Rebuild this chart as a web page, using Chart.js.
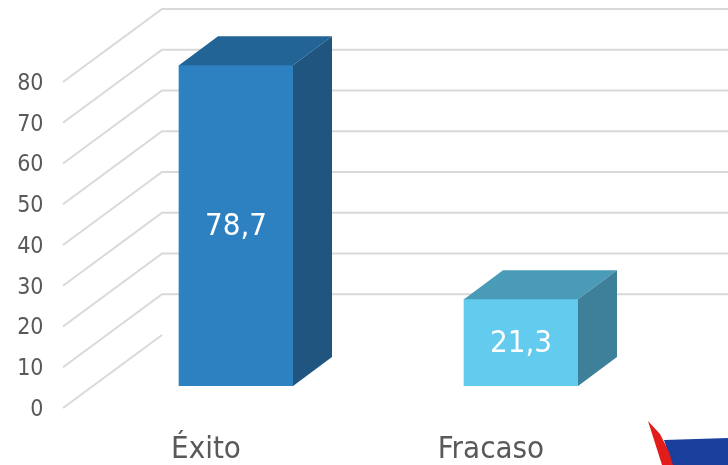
<!DOCTYPE html>
<html>
<head>
<meta charset="utf-8">
<script src="https://cdn.jsdelivr.net/npm/chart.js@4"></script>
<style>
  html, body { margin: 0; padding: 0; background: #fff; }
  #wrap { width: 728px; height: 465px; position: relative; }
</style>
</head>
<body>
<div id="wrap"><canvas id="myChart"></canvas></div>
<script>
const categories = ["Éxito", "Fracaso"];
const values = [78.7, 21.3];
const valueLabels = ["78,7", "21,3"];
const yTicks = [0, 10, 20, 30, 40, 50, 60, 70, 80];

const FONT = '"DejaVu Sans Condensed", "DejaVu Sans", sans-serif';
const frontColors = ["#2e81c1", "#63cbee"];
const topColors = ["#236497", "#4a9bb8"];
const sideColors = ["#1f557f", "#3e7f99"];

// depth of the bars and of the walls (oblique projection)
const barDepth = { x: 39, y: -29 };
const wallDepth = { x: 99, y: -73 };
const frontShift = 22; // front (label) plane sits below the bar plane

const box3d = {
  id: "box3d",
  beforeDatasetsDraw(chart) {
    const ctx = chart.ctx;
    const y = chart.scales.y;
    ctx.save();
    ctx.strokeStyle = "#d9d9d9";
    ctx.lineWidth = 2;
    yTicks.forEach(v => {
      const py = y.getPixelForValue(v) + frontShift;
      ctx.beginPath();
      ctx.moveTo(63, py);
      ctx.lineTo(63 + wallDepth.x, py + wallDepth.y);
      if (v > 0) ctx.lineTo(chart.width, py + wallDepth.y);
      ctx.stroke();
    });
    ctx.restore();
  },
  afterDatasetsDraw(chart) {
    const ctx = chart.ctx;
    const meta = chart.getDatasetMeta(0);
    ctx.save();
    meta.data.forEach((bar, i) => {
      const l = bar.x - bar.width / 2, r = bar.x + bar.width / 2;
      const t = bar.y, b = bar.base;
      // top face
      ctx.fillStyle = topColors[i];
      ctx.beginPath();
      ctx.moveTo(l, t);
      ctx.lineTo(l + barDepth.x, t + barDepth.y);
      ctx.lineTo(r + barDepth.x, t + barDepth.y);
      ctx.lineTo(r, t);
      ctx.closePath();
      ctx.fill();
      // side face
      ctx.fillStyle = sideColors[i];
      ctx.beginPath();
      ctx.moveTo(r, t);
      ctx.lineTo(r + barDepth.x, t + barDepth.y);
      ctx.lineTo(r + barDepth.x, b + barDepth.y);
      ctx.lineTo(r, b);
      ctx.closePath();
      ctx.fill();
      // value label
      ctx.fillStyle = "#ffffff";
      ctx.font = "31px " + FONT;
      ctx.textAlign = "center";
      ctx.textBaseline = "middle";
      ctx.fillText(valueLabels[i], bar.x, (t + b) / 2 + 1);
    });
    // corner logo fragment
    ctx.fillStyle = "#1b3f9c";
    ctx.beginPath();
    ctx.moveTo(664, 440);
    ctx.lineTo(728, 438);
    ctx.lineTo(728, 465);
    ctx.lineTo(672, 465);
    ctx.closePath();
    ctx.fill();
    ctx.fillStyle = "#e21b1b";
    ctx.beginPath();
    ctx.moveTo(648, 421);
    ctx.lineTo(660, 434);
    ctx.lineTo(669, 452);
    ctx.lineTo(673, 465);
    ctx.lineTo(662, 465);
    ctx.lineTo(655, 443);
    ctx.closePath();
    ctx.fill();
    ctx.restore();
  }
};

new Chart(document.getElementById("myChart"), {
  type: "bar",
  data: {
    labels: categories,
    datasets: [{
      data: values,
      backgroundColor: frontColors,
      borderWidth: 0,
      barThickness: 114
    }]
  },
  options: {
    responsive: true,
    maintainAspectRatio: false,
    animation: false,
    layout: { padding: { top: 60, right: 64.5, left: 0, bottom: 0 } },
    plugins: { legend: { display: false }, tooltip: { enabled: false } },
    scales: {
      x: {
        grid: { display: false, drawTicks: false },
        border: { display: false },
        afterFit(scale) { scale.height = 79; scale.paddingLeft = 0; scale.paddingRight = 0; },
        ticks: {
          color: "#595959",
          font: { family: FONT, size: 31 },
          labelOffset: -30,
          padding: 45
        }
      },
      y: {
        min: 0,
        max: 80,
        afterFit(scale) { scale.width = 93.5; scale.paddingTop = 0; scale.paddingBottom = 0; },
        grid: { display: false, drawTicks: false },
        border: { display: false },
        afterBuildTicks(scale) { scale.ticks = yTicks.map(v => ({ value: v })); },
        ticks: {
          color: "#595959",
          font: { family: FONT, size: 23 },
          padding: 50,
          labelOffset: frontShift + 2
        }
      }
    }
  },
  plugins: [box3d]
});
</script>
</body>
</html>
